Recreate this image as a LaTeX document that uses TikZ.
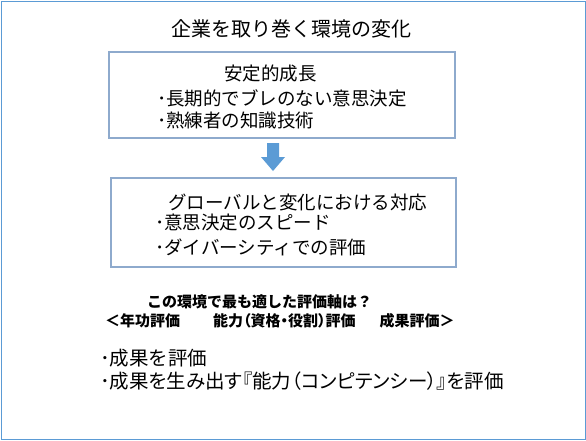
\documentclass[tikz,border=0pt]{standalone}
\usepackage{fontspec}
\setmainfont{Noto Sans CJK JP}
\newfontfamily\propfont[RawFeature=+palt]{Noto Sans CJK JP}
\usepackage{tikz}
\usetikzlibrary{positioning,calc}
\definecolor{sky}{HTML}{5B9BD5}
\definecolor{steel}{HTML}{8EAACD}
\tikzset{
  frame/.style={draw=sky,line width=1pt,minimum width=584pt,minimum height=438pt,inner sep=0pt},
  box/.style={draw=steel,line width=1.3pt,fill=white,inner sep=0pt},
  head/.style={inner sep=0pt,font=\fontsize{20}{24}\selectfont},
  txt/.style={inner sep=0pt,anchor=west,font=\fontsize{18.5}{22}\selectfont},
  txtl/.style={txt,font=\fontsize{19.5}{23}\selectfont},
  txtp/.style={txt,font=\fontsize{19.5}{23}\selectfont\propfont},
  ask/.style={txt,font=\fontsize{15}{18}\selectfont\bfseries},
  opts/.style={txt,font=\fontsize{15}{18}\selectfont\propfont\bfseries},
  blk/.style={fill=sky,draw=none},
}

\begin{document}
\begin{tikzpicture}[x=1pt,y=-1pt]
\useasboundingbox (0,0) rectangle (586,440);
\node[frame] (page) at (293,220) {};
\node[head] (t) at (291.5,29) {企業を取り巻く環境の変化};
% before
\node[box,minimum width=346pt,minimum height=86pt] (a) at (282,95) {};
\node[txt] (a0) at (224,73.5) {安定的成長};
\node[txt] (a1) at (157,98) {･長期的でブレのない意思決定};
\node[txt] (a2) at (157,121) {･熟練者の知識技術};
% after
\node[box,minimum width=345pt,minimum height=89pt] (b) at (283.5,222.5) {};
\node[txt] (b0) at (168,202) {グローバルと変化における対応};
\node[txt] (b1) at (155,223) {･意思決定のスピード};
\node[txt] (b2) at (155,247) {･ダイバーシティでの評価};
% block arrow between the boxes
\coordinate (tip) at (273,171);
\fill[blk] ($(tip)+(-6,-28)$) -- ($(tip)+(6,-28)$) -- ($(tip)+(6,-14)$) -- ($(tip)+(12,-14)$)
  -- (tip) -- ($(tip)+(-12,-14)$) -- ($(tip)+(-6,-14)$) -- cycle;
% question
\node[ask] (q) at (147,302) {この環境で最も適した評価軸は？};
\node[opts] (r) at (105,321) {＜年功評価\hspace{2.2em}能力（資格・役割）評価\hspace{1.6em}成果評価＞};
\node[txtl] (c1) at (100,358) {･成果を評価};
\node[txtp] (c2) at (100,381) {･成果を生み出す『能力（コンピテンシー）』を評価};
\end{tikzpicture}
\end{document}
